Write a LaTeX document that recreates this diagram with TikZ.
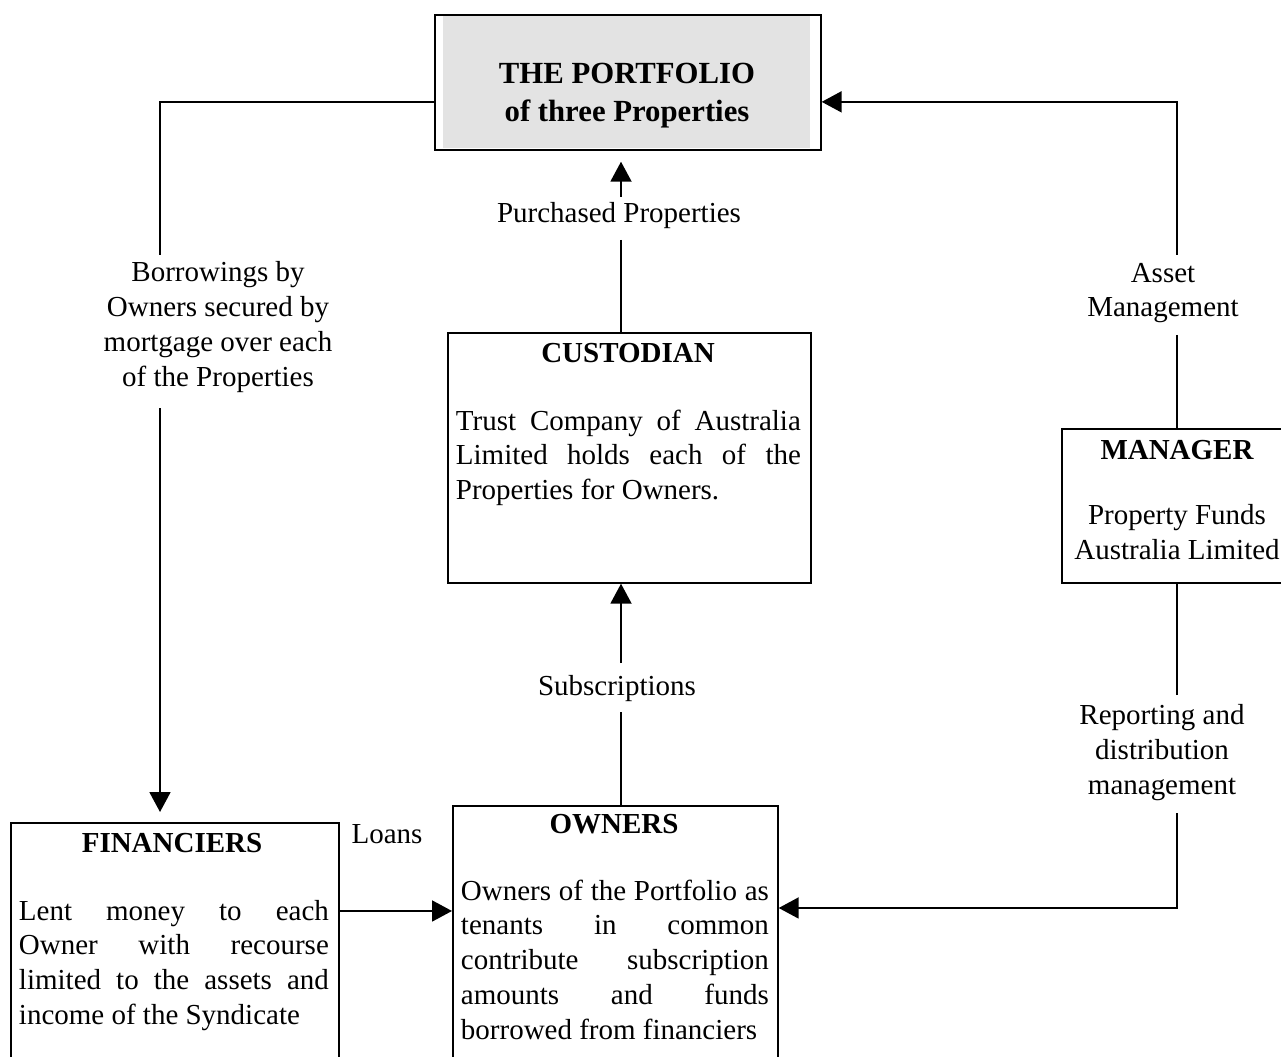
\documentclass[tikz,border=0pt]{standalone}
\usepackage{fontspec}
\setmainfont{Liberation Serif}
\usetikzlibrary{arrows.meta}
\def\bodyfont{\fontsize{16.5}{19.9}\selectfont}
\def\gapsep{0.2cm}

\begin{document}
\begin{tikzpicture}[x=0.02cm,y=-0.02cm,line width=1.1pt,>={Triangle[length=0.4cm,width=0.42cm]}]
            \tikzstyle{box}=[draw,line width=1pt,inner sep=0pt,anchor=north west]
            \tikzstyle{title}=[font=\bodyfont\bfseries,anchor=base,inner sep=0pt]
            \tikzstyle{body}=[font=\bodyfont,anchor=base west,inner sep=0pt,align=justify]
            \tikzstyle{annot}=[font=\bodyfont,anchor=base,inner sep=0pt,align=center]

            \useasboundingbox (0,0) rectangle (1281,1057);

            % The boxes
            \fill[black!11] (443,15) rectangle (810,148);
            \node[box,minimum width=7.72cm,minimum height=2.7cm] (port) at (434,14) {};
            \node[box,minimum width=7.26cm,minimum height=5cm] (cust) at (447,332) {};
            \node[box,minimum width=4.5cm,minimum height=3.08cm] (man) at (1061,428) {};
            \node[box,minimum width=6.56cm,minimum height=5.2cm] (fin) at (10,822) {};
            \node[box,minimum width=6.5cm,minimum height=5.2cm] (own) at (452,805) {};

            % Box texts (multi-line centred nodes sit on their last line)
            \node[title,font=\fontsize{17.5}{22.1}\selectfont\bfseries,align=center] (portT) at (627,122) {THE PORTFOLIO\\of three Properties};
            \node[title] (custT) at (628,363) {CUSTODIAN};
            \node[body,text width=6.9cm] (custB) at (455,430)
                {Trust Company of Australia\linebreak Limited holds each of the\linebreak Properties for Owners.};
            \node[title] (manT) at (1177,459) {MANAGER};
            \node[annot] (manB) at (1177,559) {Property Funds\\Australia Limited};
            \node[title] (finT) at (172,852) {FINANCIERS};
            \node[body,text width=6.2cm] (finB) at (18,920)
                {Lent money to each\linebreak Owner with recourse\linebreak limited to the assets and\linebreak income of the Syndicate};
            \node[title] (ownT) at (614,833) {OWNERS};
            \node[body,text width=6.16cm] (ownB) at (460,900)
                {Owners of the Portfolio as\linebreak tenants in common\linebreak contribute subscription\linebreak amounts and funds\linebreak borrowed from financiers};

            % Connector labels
            \node[annot] (purch) at (619,223) {Purchased Properties};
            \node[annot] (borrow) at (218,386) {Borrowings by\\Owners secured by\\mortgage over each\\of the Properties};
            \node[annot] (asset) at (1163,317) {Asset\\Management};
            \node[annot] (subs) at (617,695) {Subscriptions};
            \node[annot] (report) at (1162,794) {Reporting and\\distribution\\management};
            \node[annot] (loans) at (387,843) {Loans};

            % Break points of the connectors
            \coordinate (p1) at (621,197);
            \coordinate (p2) at (621,240);
            \coordinate (b1) at (160,255);
            \coordinate (b2) at (160,408);
            \coordinate (a1) at (1177,255);
            \coordinate (a2) at (1177,335);
            \coordinate (s1) at (621,663);
            \coordinate (s2) at (621,712);
            \coordinate (r1) at (1177,695);
            \coordinate (r2) at (1177,813);

            % Connectors
            \draw[->,shorten >=0.22cm] (p1) -- (p1 |- port.south);
            \draw (p2) -- (p2 |- cust.north);
            \draw (b1) |- ([yshift=-0.39cm]port.west);
            \draw[->,shorten >=\gapsep] (b2) -- (b2 |- fin.north);
            \draw[->] (a1) |- ([yshift=-0.39cm]port.east);
            \draw (a2) -- (a2 |- man.north);
            \draw[->] (s1) -- (s1 |- cust.south);
            \draw (s2) -- (s2 |- own.north);
            \draw (r1) -- (r1 |- man.south);
            \draw[->] (r2) |- ([yshift=-2.06cm]own.north east);
            \draw[->] ([yshift=-1.78cm]fin.north east) -- ([yshift=-1.78cm]fin.north east -| own.west);
\end{tikzpicture}
\end{document}
